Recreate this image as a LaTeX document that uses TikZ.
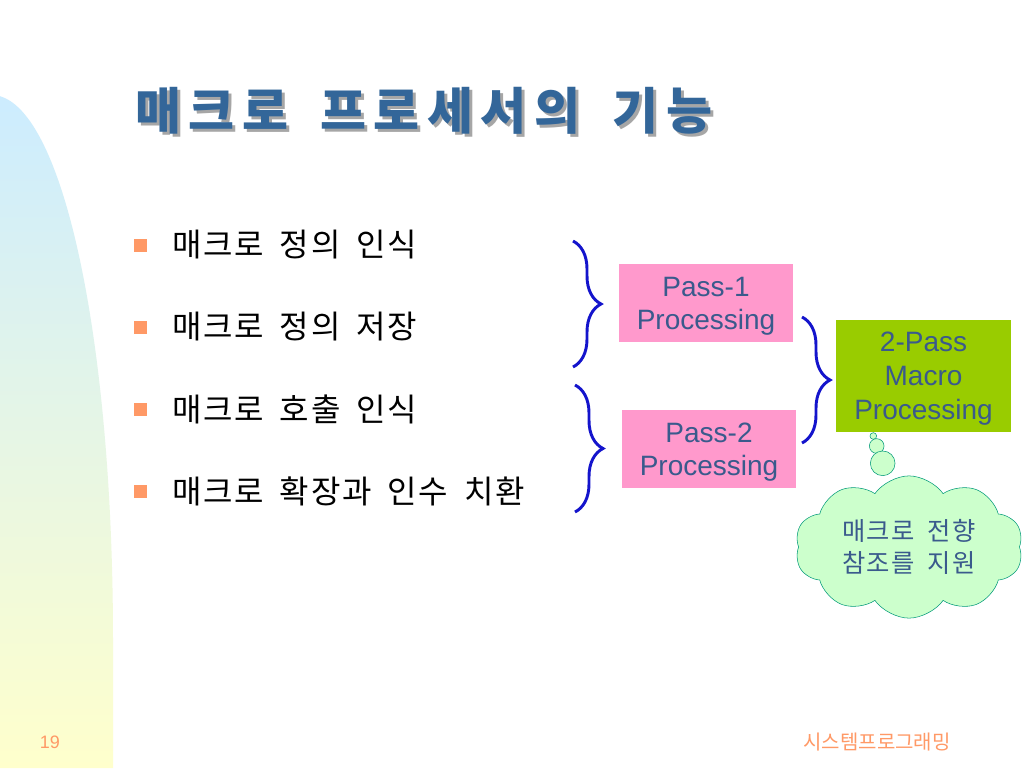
\documentclass[tikz,border=0pt]{standalone}
\usepackage{fontspec}
\setmainfont{Liberation Sans}
\newfontfamily\kor[WordSpace=1.85,LetterSpace=5]{Noto Sans CJK KR}
\newfontfamily\kortitle[WordSpace=1.7,LetterSpace=15]{Noto Sans CJK KR}
\newfontfamily\korfoot{Noto Sans CJK KR}
\usetikzlibrary{positioning,shapes.symbols,decorations.pathreplacing}
\definecolor{sky}{RGB}{204,236,255}
\definecolor{cream}{RGB}{255,255,204}
\definecolor{slate}{RGB}{51,102,153}
\definecolor{boxtext}{RGB}{58,90,140}
\definecolor{pinkbox}{RGB}{255,153,204}
\definecolor{limebox}{RGB}{153,204,0}
\definecolor{mint}{RGB}{204,255,204}
\definecolor{teal}{RGB}{0,153,120}
\definecolor{braceblue}{RGB}{20,20,204}
\definecolor{salmon}{RGB}{255,153,102}

\begin{document}
\begin{tikzpicture}[x=0.75pt,y=-0.75pt,
    pass/.style={rectangle,fill=pinkbox,inner sep=0pt,minimum width=130.5pt,minimum height=58.5pt,text depth=0pt,align=center,text=boxtext,font=\fontsize{21}{24.75}\selectfont},
    whole/.style={rectangle,fill=limebox,inner sep=0pt,minimum width=131.25pt,minimum height=84pt,text depth=0pt,align=center,text=boxtext,font=\fontsize{21}{25.5}\selectfont},
    sq/.style={rectangle,fill=salmon,inner sep=0pt,minimum size=9.75pt},
    item/.style={anchor=west,inner sep=0pt,font=\kor\fontsize{24}{28}\selectfont},
    curly/.style={draw=braceblue,line width=2.2pt,decorate,decoration={brace,amplitude=21pt,aspect=0.5}},
    puff/.style={circle,draw=teal,fill=mint,thin,inner sep=0pt}]
    \useasboundingbox (0,0) rectangle (1024,768);
    \fill[white] (0,0) rectangle (1024,768);
    % side band
    \shade[top color=sky,bottom color=cream,middle color=sky!50!cream]
        (-10,95) .. controls (60,92) and (113,330) .. (113,640) -- (113,768) -- (-10,768) -- cycle;
    % title
    \node[anchor=west,inner sep=0pt,text=gray!70,font=\kortitle\bfseries\fontsize{37.5}{40}\selectfont] (titleshadow) at (138,114) {매크로 프로세서의 기능};
    \node[anchor=west,inner sep=0pt,text=slate,font=\kortitle\bfseries\fontsize{37.5}{40}\selectfont] (title) at (135,111) {매크로 프로세서의 기능};
    % items
    \foreach \t [count=\i] in {매크로 정의 인식,매크로 정의 저장,매크로 호출 인식,매크로 확장과 인수 치환}{
        \node[sq] (sq\i) at (140,{245+82*(\i-1)}) {};
        \node[item] (item\i) at (172,{245+82*(\i-1)}) {\t};
    }
    % boxes
    \node[pass] (pass1) at (706,303) {Pass-1\\Processing};
    \node[pass] (pass2) at (709,449) {Pass-2\\Processing};
    \node[whole] (twopass) at (923.5,376) {2-Pass\\Macro\\Processing};
    % braces
    \coordinate (b1a) at (573,241);
    \coordinate (b1b) at (573,367);
    \coordinate (b2a) at (575,385);
    \coordinate (b2b) at (575,512);
    \coordinate (b3a) at (802,317);
    \coordinate (b3b) at (802,443);
    \draw[curly] (b1a) -- (b1b);
    \draw[curly] (b2a) -- (b2b);
    \draw[curly] (b3a) -- (b3b);
    % thought cloud
    \node[puff,minimum size=5pt] (p1) at (873.3,436) {};
    \node[puff,minimum size=11pt] (p2) at (876.7,446) {};
    \node[puff,minimum size=18.5pt] (p3) at (882.7,463.3) {};
    \node[cloud,cloud puffs=10,cloud puff arc=110,aspect=1.6,draw=teal,fill=mint,thin,
        minimum width=171pt,minimum height=106.5pt,inner sep=0pt,align=center,text=boxtext,
        font=\kor\fontsize{19}{24}\selectfont] (cloud) at (909,547) {매크로 전향\\참조를 지원};
    % footer
    \node[text=salmon,font=\fontsize{13.5}{14}\selectfont] (page) at (50,742) {19};
    \node[text=salmon,font=\korfoot\fontsize{15}{16}\selectfont] (course) at (877,742) {시스템프로그래밍};
\end{tikzpicture}
\end{document}
